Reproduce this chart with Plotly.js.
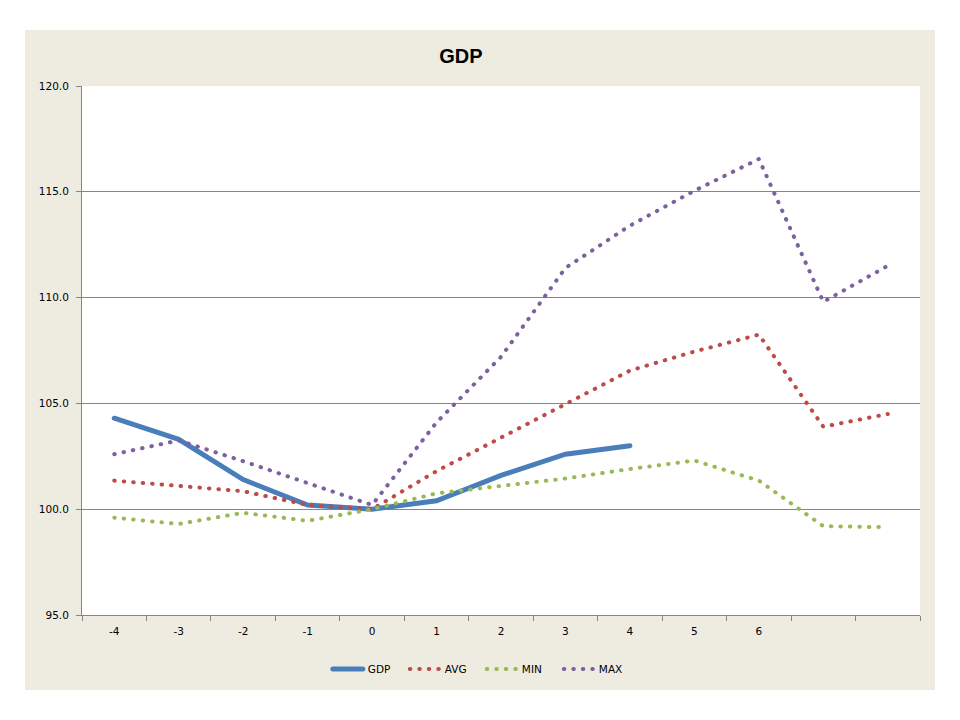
<!DOCTYPE html>
<html>
<head>
<meta charset="utf-8">
<script src="https://cdn.plot.ly/plotly-3.0.1.min.js"></script>
<style>
  html, body { margin: 0; padding: 0; background: #ffffff; }
  #chart { position: absolute; left: 25px; top: 30px; width: 910px; height: 660px; }
  path.js-line { stroke-linecap: round; }
</style>
</head>
<body>
<div id="chart"></div>
<script>
const categories = ['-4', '-3', '-2', '-1', '0', '1', '2', '3', '4', '5', '6', ' ', '  '];
const gdp = [104.3, 103.3, 101.4, 100.2, 100.0, 100.4, 101.6, 102.6, 103.0];
const avg = [101.35, 101.1, 100.85, 100.2, 100.0, 101.8, 103.4, 105.0, 106.55, 107.45, 108.25, 103.9, 104.5];
const minv = [99.6, 99.3, 99.83, 99.45, 100.0, 100.75, 101.1, 101.45, 101.9, 102.3, 101.35, 99.2, 99.15];
const maxv = [102.6, 103.25, 102.27, 101.25, 100.2, 104.1, 107.2, 111.4, 113.4, 115.05, 116.55, 109.8, 111.5];
const yTickVals = [95, 100, 105, 110, 115, 120];

const dotDash = '0.5px,9px';
const traces = [
  { x: categories.slice(0, gdp.length), y: gdp, name: 'GDP', type: 'scatter', mode: 'lines',
    line: { color: '#4A7EBB', width: 5 } },
  { x: categories, y: avg, name: 'AVG', type: 'scatter', mode: 'lines',
    line: { color: '#BE4B48', width: 4, dash: dotDash } },
  { x: categories, y: minv, name: 'MIN', type: 'scatter', mode: 'lines',
    line: { color: '#98B954', width: 4, dash: dotDash } },
  { x: categories, y: maxv, name: 'MAX', type: 'scatter', mode: 'lines',
    line: { color: '#7D60A0', width: 4, dash: dotDash } }
];

const tickFont = { family: 'DejaVu Sans, Verdana, sans-serif', size: 10.5, color: '#000000' };

const layout = {
  width: 910, height: 660,
  paper_bgcolor: '#EEECE1',
  plot_bgcolor: '#FFFFFF',
  margin: { l: 57, r: 15, t: 56, b: 75, autoexpand: false },
  title: { text: '<b>GDP</b>', x: 0.479, xref: 'container', y: 0.9606, yref: 'container', yanchor: 'middle', xanchor: 'center',
    font: { family: 'Liberation Sans, Arial, sans-serif', size: 20, color: '#000000' } },
  xaxis: {
    type: 'category', categoryorder: 'array', categoryarray: categories,
    showgrid: false, zeroline: false,
    showline: true, linecolor: '#868686', linewidth: 1,
    ticks: 'outside', ticklen: 5, tickcolor: '#868686', tickson: 'boundaries',
    tickfont: tickFont, ticklabelstandoff: 6,
    range: [-0.5, 12.5], fixedrange: true, automargin: false
  },
  yaxis: {
    range: [95, 120], tickvals: yTickVals, tickformat: '.1f',
    showgrid: true, gridcolor: '#868686', gridwidth: 1,
    zeroline: false, showline: true, linecolor: '#868686', linewidth: 1,
    ticks: 'outside', ticklen: 5, tickcolor: '#868686',
    tickfont: tickFont, ticklabelstandoff: 5, fixedrange: true, automargin: false
  },
  showlegend: true,
  legend: { orientation: 'h', xref: 'container', yref: 'container', x: 0.502, xanchor: 'center', y: 0.0318, yanchor: 'middle',
    font: tickFont, bgcolor: 'rgba(0,0,0,0)', itemwidth: 30, tracegroupgap: 0,
    entrywidth: 32, entrywidthmode: 'pixels' }
};

Plotly.newPlot('chart', traces, layout, { displayModeBar: false, staticPlot: true });
</script>
</body>
</html>
